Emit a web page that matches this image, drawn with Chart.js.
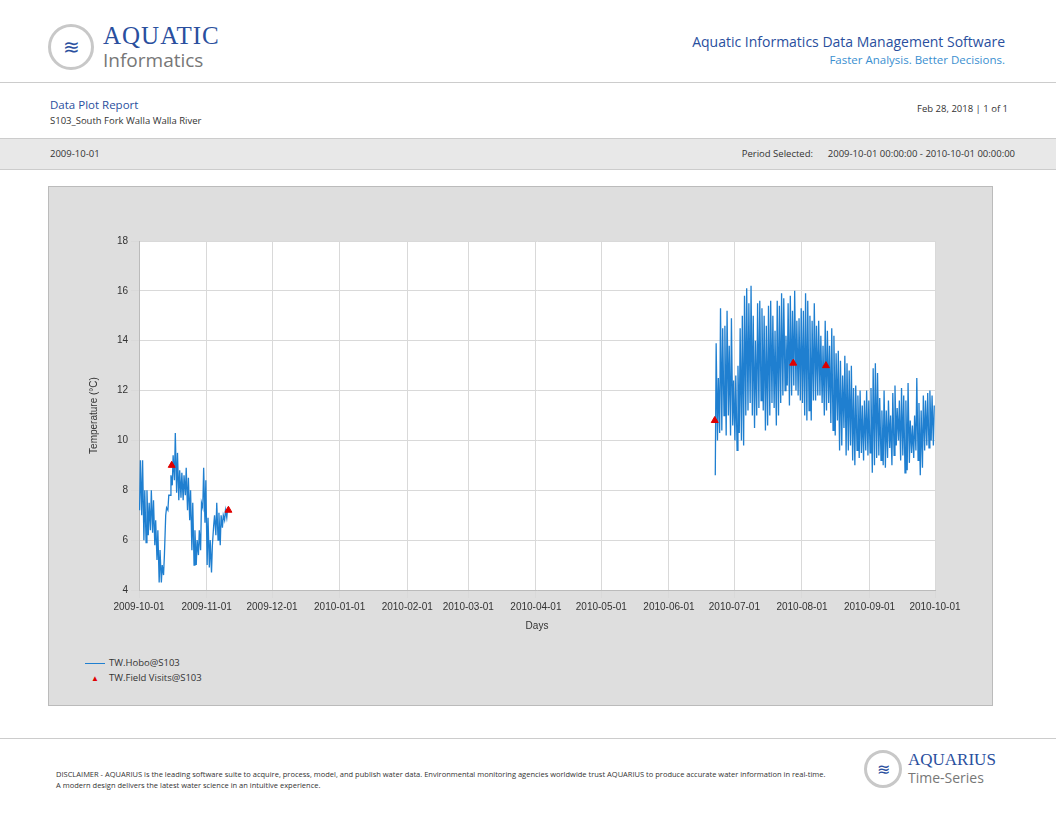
<!DOCTYPE html>
<html><head><meta charset="utf-8">
<script src="https://cdn.jsdelivr.net/npm/chart.js@4/dist/chart.umd.min.js"></script>
<style>
body{margin:0;width:1056px;height:816px;background:#fff;font-family:"Open Sans",sans-serif;position:relative;overflow:hidden}
.a{position:absolute}
</style></head><body>
<div class="a" style="left:48px;top:24px;width:46px;height:46px;border-radius:50%;border:3px solid #c8c8c8;box-sizing:border-box;color:#2a4f9e;font-size:20px;text-align:center;line-height:40px">≋</div>
<div class="a" style="left:103px;top:22px;color:#2a4f9e;font-size:25px;font-family:'Liberation Serif',serif;letter-spacing:1px">AQUATIC</div>
<div class="a" style="left:103px;top:47px;color:#777;font-size:19px">Informatics</div>
<div class="a" style="right:51px;top:32px;color:#2a4f9e;font-size:14px">Aquatic Informatics Data Management Software</div>
<div class="a" style="right:51px;top:52px;color:#3a8fd0;font-size:11.5px">Faster Analysis. Better Decisions.</div>
<div class="a" style="left:0;top:82px;width:1056px;border-top:1px solid #ccc"></div>
<div class="a" style="left:50px;top:97px;color:#2a4f9e;font-size:11.5px">Data Plot Report</div>
<div class="a" style="left:50px;top:114px;color:#333;font-size:9.5px">S103_South Fork Walla Walla River</div>
<div class="a" style="right:48px;top:102px;color:#333;font-size:9.5px">Feb 28, 2018 | 1 of 1</div>
<div class="a" style="left:0;top:138px;width:1056px;height:30px;background:#e8e8e8;border-top:1px solid #ccc;border-bottom:1px solid #ccc"></div>
<div class="a" style="left:50px;top:147px;color:#333;font-size:9.5px">2009-10-01</div>
<div class="a" style="right:41px;top:147px;color:#333;font-size:9.5px">Period Selected: &nbsp;&nbsp;&nbsp;&nbsp; 2009-10-01 00:00:00 - 2010-10-01 00:00:00</div>
<div class="a" style="left:48px;top:186px;width:945px;height:520px;background:#dedede;border:1px solid #bbb;box-sizing:border-box"></div>
<div class="a" style="left:48px;top:186px;width:945px;height:460px"><canvas id="c" width="945" height="460"></canvas></div>
<div class="a" style="left:85px;top:656px;font-size:9.5px;color:#333"><span style="display:inline-block;width:20px;height:1px;background:#1f7fd0;vertical-align:middle;margin-right:4px"></span>TW.Hobo@S103</div>
<div class="a" style="left:85px;top:671px;font-size:9.5px;color:#333"><span style="display:inline-block;width:20px;text-align:center;color:#e00000;font-size:8px;margin-right:4px">▲</span>TW.Field Visits@S103</div>
<div class="a" style="left:0;top:738px;width:1056px;border-top:1px solid #ccc"></div>
<div class="a" style="left:56px;top:769px;width:770px;font-size:7.5px;color:#333;line-height:11px">DISCLAIMER - AQUARIUS is the leading software suite to acquire, process, model, and publish water data. Environmental monitoring agencies worldwide trust AQUARIUS to produce accurate water information in real-time. A modern design delivers the latest water science in an intuitive experience.</div>
<div class="a" style="left:864px;top:750px;width:38px;height:38px;border-radius:50%;border:3px solid #c8c8c8;box-sizing:border-box;color:#2a4f9e;font-size:16px;text-align:center;line-height:32px">≋</div>
<div class="a" style="left:908px;top:750px;color:#2a4f9e;font-size:17px;font-family:'Liberation Serif',serif">AQUARIUS</div>
<div class="a" style="left:908px;top:768px;color:#777;font-size:14px">Time-Series</div>
<script>
const DAY = 86400000;
const monthTicks = ["2009-10-01","2009-11-01","2009-12-01","2010-01-01","2010-02-01","2010-03-01","2010-04-01","2010-05-01","2010-06-01","2010-07-01","2010-08-01","2010-09-01","2010-10-01"];
const yTicks = [4, 6, 8, 10, 12, 14, 16, 18];

const start1 = "2009-10-01";
const max1 = [9.2,9.2,8.0,8.0,7.5,8.0,7.6,6.8,6.4,5.6,5.0,5.4,7.3,7.8,8.6,9.4,10.3,9.5,8.8,8.7,8.6,8.9,8.5,8.0,7.5,6.4,6.0,6.4,7.5,8.9,8.4,6.9,6.0,5.8,7.0,7.5,7.1,7.0,7.0,7.2,7.3];
const min1 = [7.2,7.0,6.0,5.9,6.2,6.4,6.3,5.8,5.2,4.3,4.3,4.6,7.0,7.2,7.8,8.2,8.4,7.9,7.6,7.7,7.6,7.8,7.2,6.8,5.6,5.0,5.0,5.4,5.6,7.3,6.7,5.0,4.9,4.7,6.6,6.2,6.0,5.8,6.5,6.8,6.9];

const start2 = "2010-06-22";
const max2 = [13.9,12.5,15.3,14.5,14.6,15.2,13.8,14.9,12.4,
  12.6,13.0,14.5,15.0,15.8,16.1,15.5,16.2,15.0,14.0,15.5,15.6,15.3,15.0,14.6,15.4,15.6,15.0,14.4,15.6,15.4,15.9,15.7,14.2,15.5,15.8,15.2,16.0,14.8,14.9,15.3,
  15.2,15.9,15.6,15.0,14.8,15.5,14.6,14.8,14.2,13.8,14.8,14.4,13.8,14.5,14.2,13.5,13.6,13.2,12.6,13.4,13.1,12.8,13.0,12.1,12.2,11.8,12.0,11.4,11.6,12.0,11.6,
  12.1,12.9,13.1,12.7,11.7,11.2,12.0,11.2,11.6,11.0,11.9,12.2,11.3,11.6,12.1,11.8,11.6,12.3,10.8,10.6,11.0,12.5,11.5,11.2,11.8,11.6,11.9,12.0,11.8,11.4];
const min2 = [8.6,10.0,10.3,10.4,11.0,10.2,11.0,10.2,10.6,
  10.0,9.6,10.3,10.0,9.8,11.0,11.2,11.5,11.0,10.5,11.0,11.3,11.6,11.2,10.4,10.6,11.0,11.5,11.3,10.6,11.0,11.5,11.8,12.0,12.2,11.4,11.8,12.2,12.0,11.8,11.6,
  11.5,11.0,10.8,11.2,10.8,11.6,11.6,11.8,11.8,11.5,11.0,11.2,11.5,10.7,10.4,10.2,10.8,9.6,9.8,10.5,9.4,9.6,9.8,9.2,9.0,9.6,9.3,9.5,9.2,9.6,9.4,
  9.5,8.7,9.0,9.3,9.4,9.2,9.0,8.9,9.3,9.7,9.0,9.4,9.8,10.0,9.2,9.4,8.7,8.8,9.1,9.5,9.3,9.6,9.2,8.6,8.9,9.6,9.8,9.7,10.0,9.8];

const visitDates = ["2009-10-16","2009-11-11","2010-06-22","2010-07-28","2010-08-12"];
const visitValues = [9.0, 7.2, 10.8, 13.1, 13.0];

const t = s => Date.parse(s + "T00:00:00Z");
function series(startDate, mins, maxs) {
  const pts = [];
  mins.forEach((m, i) => {
    const d = t(startDate) + i * DAY;
    pts.push({x: d + 0.25 * DAY, y: m});
    pts.push({x: d + 0.65 * DAY, y: maxs[i]});
  });
  return pts;
}
const hobo = series(start1, min1, max1).concat([{x: t("2010-01-01"), y: null}], series(start2, min2, max2));
const visits = visitDates.map((d, i) => ({x: t(d), y: visitValues[i]}));

const whiteArea = {
  id: "whiteArea",
  beforeDraw(chart) {
    const a = chart.chartArea, ctx = chart.ctx;
    ctx.save(); ctx.fillStyle = "#fff"; ctx.fillRect(a.left, a.top, a.right - a.left, a.bottom - a.top); ctx.restore();
  }
};

new Chart("c", {
  type: "line",
  data: {datasets: [
    {data: visits, showLine: false, pointStyle: "triangle", pointRadius: 4, backgroundColor: "#e00000", borderColor: "#e00000"},
    {data: hobo, borderColor: "#1f7fd0", borderWidth: 1.3, pointRadius: 0, spanGaps: false, tension: 0}
  ]},
  options: {
    animation: false, responsive: false,
    layout: {padding: {top: 55, right: 58, left: 40, bottom: 14}},
    plugins: {legend: {display: false}, tooltip: {enabled: false}},
    scales: {
      x: {
        type: "linear", min: t(monthTicks[0]), max: t(monthTicks[monthTicks.length - 1]),
        afterBuildTicks: s => { s.ticks = monthTicks.map(m => ({value: t(m)})); },
        afterFit: s => { s.height = 42; },
        ticks: {callback: v => new Date(v).toISOString().slice(0, 10), color: "#333", font: {size: 10}, maxRotation: 0, autoSkip: false},
        grid: {color: "#d9d9d9"}, border: {color: "#bbb"},
        title: {display: true, text: "Days", color: "#333", font: {size: 10}, padding: 0}
      },
      y: {
        min: 4, max: 18,
        afterBuildTicks: s => { s.ticks = yTicks.map(v => ({value: v})); },
        afterFit: s => { s.width = 51; },
        ticks: {color: "#333", font: {size: 10}},
        grid: {color: "#d9d9d9"}, border: {color: "#bbb"},
        title: {display: true, text: "Temperature (°C)", color: "#333", font: {size: 10}, padding: 0}
      }
    }
  },
  plugins: [whiteArea]
});
</script>
</body></html>
